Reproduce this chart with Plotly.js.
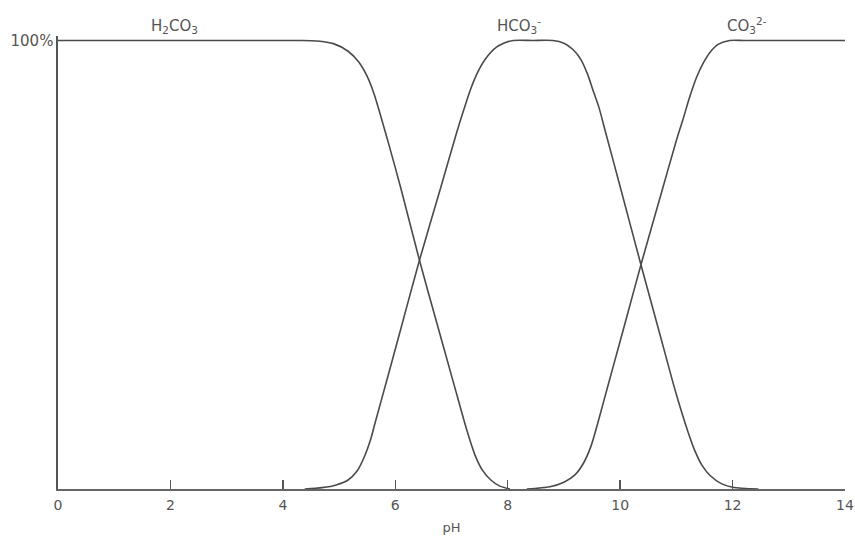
<!DOCTYPE html>
<html>
<head>
<meta charset="utf-8">
<script src="https://cdn.plot.ly/plotly-3.0.1.min.js"></script>
<style>html,body{margin:0;padding:0;background:#fff;}#chart{width:855px;height:537px;}</style>
</head>
<body>
<div id="chart"></div>
<script>
// Carbonate species distribution vs pH
const phH2CO3 = [0, 1, 2, 3, 4, 4.3, 4.6, 4.9, 5.16, 5.35, 5.5, 5.62, 5.87, 6.10, 6.43, 6.75, 7.04, 7.28, 7.42, 7.55, 7.7, 7.85, 8.04];
const pctH2CO3 = [100, 100, 100, 100, 100, 100, 99.9, 99.3, 97.6, 95.2, 92, 88.2, 77.5, 67, 51, 36.5, 23.5, 12.8, 7.5, 4.2, 2, 0.7, 0];

const phHCO3 = [4.39, 4.7, 4.95, 5.16, 5.32, 5.45, 5.56, 5.64, 5.87, 6.10, 6.43, 6.81, 7.10, 7.22, 7.33, 7.45, 7.6, 7.8, 8.0, 8.1,
                8.45, 8.8, 9.0, 9.16, 9.3, 9.42, 9.52, 9.62, 9.75, 9.99, 10.37, 10.69, 10.99, 11.2, 11.33, 11.46, 11.6, 11.8, 12.0, 12.46];
const pctHCO3 = [0, 0.3, 0.9, 2, 4, 7.2, 11, 14.7, 25.2, 35.8, 51, 67.3, 79.8, 84.6, 88.8, 92.5, 95.8, 98.5, 99.7, 100,
                 100, 100, 99.4, 98, 95.8, 92.5, 88.8, 85.2, 79.1, 67.9, 50, 35.3, 21.5, 13, 8.5, 5.2, 3, 1.2, 0.4, 0];

const phCO3 = [8.34, 8.75, 9.0, 9.2, 9.35, 9.48, 9.6, 9.7, 9.87, 10.11, 10.37, 10.75, 11.0, 11.12, 11.24, 11.36, 11.48, 11.6, 11.75, 11.95, 12.2, 12.6, 13, 13.5, 14];
const pctCO3 = [0, 0.5, 1.5, 3.2, 5.8, 9.5, 14.6, 19.2, 27, 38, 50, 66.7, 77.7, 82.5, 87.5, 91.8, 95, 97.4, 99.2, 100, 100, 100, 100, 100, 100];

const xTickVals = [0, 2, 4, 6, 8, 10, 12, 14];
const xTickText = ['0', '2', '4', '6', '8', '10', '12', '14'];
const yTickVals = [100];
const yTickText = ['100%'];

const speciesLabels = ['H<sub>2</sub>CO<sub>3</sub>', 'HCO<sub>3</sub><sup>-</sup>', 'CO<sub>3</sub><sup>2-</sup>'];
const labelPH = [2.07, 8.2, 12.25];

const lineStyle = {color: '#4a4a4a', width: 1.6, shape: 'spline', smoothing: 0.8};
const traces = [
  {x: phH2CO3, y: pctH2CO3, name: 'H2CO3'},
  {x: phHCO3, y: pctHCO3, name: 'HCO3-'},
  {x: phCO3, y: pctCO3, name: 'CO3 2-'}
].map(t => Object.assign(t, {type: 'scatter', mode: 'lines', line: lineStyle, cliponaxis: false, hoverinfo: 'skip'}));

const fam = 'DejaVu Sans, sans-serif';

const layout = {
  width: 855, height: 537,
  margin: {l: 58, r: 10, t: 36, b: 48},
  paper_bgcolor: '#fff', plot_bgcolor: '#fff',
  showlegend: false,
  font: {family: fam, size: 13, color: '#555'},
  xaxis: {
    range: [0, 14], tickvals: xTickVals, ticktext: xTickText,
    ticks: 'inside', ticklen: 9, tickwidth: 1.3, tickcolor: '#555',
    showline: true, linecolor: '#666', linewidth: 1.6,
    showgrid: false, zeroline: false,
    ticklabelstandoff: 3, ticklabeloverflow: 'allow',
    tickfont: {family: fam, size: 14, color: '#555'},
    title: {text: 'pH', standoff: 10, font: {family: fam, size: 13, color: '#555'}}
  },
  yaxis: {
    range: [0, 101], tickvals: yTickVals, ticktext: yTickText,
    ticks: '', showline: true, linecolor: '#555', linewidth: 1.6,
    showgrid: false, zeroline: false, ticklabelstandoff: 0,
    tickfont: {family: fam, size: 15, color: '#555'}
  },
  annotations: speciesLabels.map((txt, i) => ({
    x: labelPH[i], y: 100, xref: 'x', yref: 'y', text: txt, showarrow: false,
    yanchor: 'bottom', yshift: 2,
    font: {family: fam, size: 15, color: '#555'}
  }))
};

Plotly.newPlot('chart', traces, layout, {displayModeBar: false, staticPlot: true});
</script>
</body>
</html>
